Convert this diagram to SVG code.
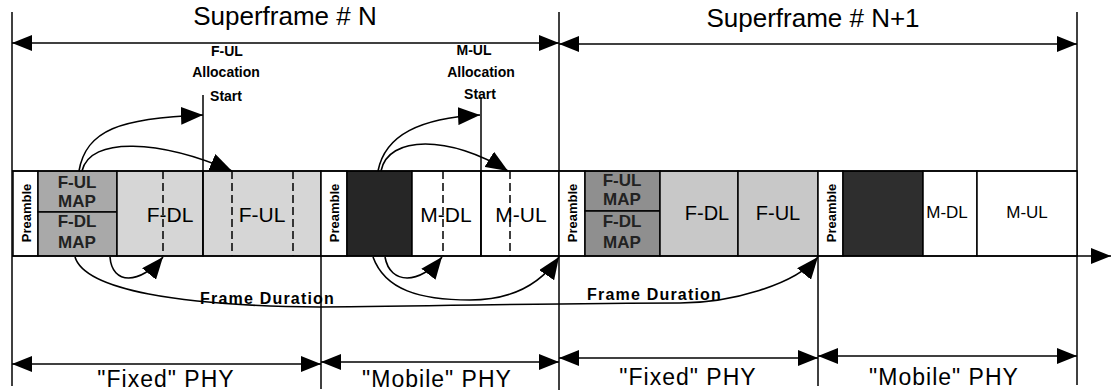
<svg xmlns="http://www.w3.org/2000/svg" width="1113" height="391" viewBox="0 0 1113 391">
<style>
text{font-family:"Liberation Sans",Arial,sans-serif;fill:#000}
.big{font-size:26px}
.phy{font-size:23px;letter-spacing:1px}
.lbl{font-size:14px;font-weight:bold}
.fd{font-size:16px;font-weight:bold;letter-spacing:1.2px}
.pre{font-size:13px;font-weight:bold}
.map{font-size:17px;font-weight:bold;fill:#222}
.box{stroke:#000;stroke-width:1.5}
.ln{stroke:#000;stroke-width:1.5;fill:none}
.dash{stroke:#000;stroke-width:1.5;stroke-dasharray:8 4;fill:none}
.cv{stroke:#000;stroke-width:1.6;fill:none}
</style>
<defs>
<marker id="ah" viewBox="0 0 20 16" refX="20" refY="8" markerWidth="20" markerHeight="16" markerUnits="userSpaceOnUse" orient="auto-start-reverse"><path d="M0,0 L20,8 L0,16 z" fill="#000"/></marker>
<marker id="ahs" viewBox="0 0 22 18" refX="22" refY="9" markerWidth="22" markerHeight="18" markerUnits="userSpaceOnUse" orient="auto"><path d="M0,0 L22,9 L0,18 z" fill="#000"/></marker>
</defs>

<g id="guides">
<line class="ln" x1="12" y1="12" x2="12" y2="386"/>
<line class="ln" x1="559" y1="12" x2="559" y2="390"/>
<line class="ln" x1="1077" y1="12" x2="1077" y2="385"/>
<line class="ln" x1="321" y1="256" x2="321" y2="389"/>
<line class="ln" x1="818" y1="256" x2="818" y2="386"/>
</g>

<g id="fixed-n">
<rect class="box" x="13" y="171" width="25" height="85" fill="#fff"/>
<text class="pre" transform="translate(26,213) rotate(-90)" text-anchor="middle" dominant-baseline="central">Preamble</text>
<rect class="box" x="38" y="171" width="79" height="41" fill="#a9a9a9"/>
<rect class="box" x="38" y="212" width="79" height="44" fill="#a9a9a9"/>
<text class="map" x="77" y="188" text-anchor="middle">F-UL</text>
<text class="map" x="77" y="207" text-anchor="middle">MAP</text>
<text class="map" x="77" y="227" text-anchor="middle">F-DL</text>
<text class="map" x="77" y="248" text-anchor="middle">MAP</text>
<rect class="box" x="117" y="171" width="86" height="85" fill="#d6d6d6"/>
<rect class="box" x="203" y="171" width="118" height="85" fill="#d6d6d6"/>
<line class="dash" x1="163" y1="171" x2="163" y2="256"/>
<line class="dash" x1="232" y1="171" x2="232" y2="256"/>
<line class="dash" x1="293" y1="171" x2="293" y2="256"/>
<text x="170" y="222" font-size="21" text-anchor="middle">F-DL</text>
<text x="262" y="222" font-size="21" text-anchor="middle">F-UL</text>
</g>

<g id="mobile-n">
<rect class="box" x="321" y="171" width="26" height="85" fill="#fff"/>
<text class="pre" transform="translate(334,213) rotate(-90)" text-anchor="middle" dominant-baseline="central">Preamble</text>
<rect class="box" x="347" y="171" width="65" height="85" fill="#262626"/>
<rect class="box" x="412" y="171" width="69" height="85" fill="#fff"/>
<rect class="box" x="481" y="171" width="78" height="85" fill="#fff"/>
<line class="dash" x1="443" y1="171" x2="443" y2="256"/>
<line class="dash" x1="510" y1="171" x2="510" y2="256"/>
<text x="446" y="222" font-size="21" text-anchor="middle">M-DL</text>
<text x="521" y="222" font-size="21" text-anchor="middle">M-UL</text>
</g>

<g id="fixed-n1">
<rect class="box" x="559" y="171" width="26" height="85" fill="#fff"/>
<text class="pre" transform="translate(572,213) rotate(-90)" text-anchor="middle" dominant-baseline="central">Preamble</text>
<rect class="box" x="585" y="171" width="75" height="40" fill="#8f8f8f"/>
<rect class="box" x="585" y="211" width="75" height="45" fill="#8f8f8f"/>
<text class="map" x="622" y="186" text-anchor="middle">F-UL</text>
<text class="map" x="622" y="205" text-anchor="middle">MAP</text>
<text class="map" x="622" y="227" text-anchor="middle">F-DL</text>
<text class="map" x="622" y="248" text-anchor="middle">MAP</text>
<rect class="box" x="660" y="171" width="78" height="85" fill="#c8c8c8"/>
<rect class="box" x="738" y="171" width="80" height="85" fill="#c8c8c8"/>
<text x="707" y="220" font-size="20" text-anchor="middle">F-DL</text>
<text x="778" y="220" font-size="20" text-anchor="middle">F-UL</text>
</g>

<g id="mobile-n1">
<rect class="box" x="818" y="171" width="25" height="85" fill="#fff"/>
<text class="pre" transform="translate(831,213) rotate(-90)" text-anchor="middle" dominant-baseline="central">Preamble</text>
<rect class="box" x="843" y="171" width="80" height="85" fill="#2e2e2e"/>
<rect class="box" x="923" y="171" width="54" height="85" fill="#fff"/>
<rect class="box" x="977" y="171" width="100" height="85" fill="#fff"/>
<text x="947" y="218" font-size="17" text-anchor="middle">M-DL</text>
<text x="1027" y="218" font-size="17" text-anchor="middle">M-UL</text>
</g>

<g id="labels">
<text class="big" x="285" y="25" text-anchor="middle">Superframe # N</text>
<text class="big" x="813" y="27" text-anchor="middle">Superframe # N+1</text>
<text class="lbl" x="227" y="56" text-anchor="middle">F-UL</text>
<text class="lbl" x="226" y="77" text-anchor="middle">Allocation</text>
<text class="lbl" x="226" y="101" text-anchor="middle">Start</text>
<text class="lbl" x="474" y="55" text-anchor="middle">M-UL</text>
<text class="lbl" x="481" y="77" text-anchor="middle">Allocation</text>
<text class="lbl" x="480" y="99" text-anchor="middle">Start</text>
<text class="fd" x="200" y="304">Frame Duration</text>
<text class="fd" x="587" y="300">Frame Duration</text>
<text class="phy" x="166" y="387" text-anchor="middle">"Fixed" PHY</text>
<text class="phy" x="437" y="387" text-anchor="middle">"Mobile" PHY</text>
<text class="phy" x="688" y="385" text-anchor="middle">"Fixed" PHY</text>
<text class="phy" x="944" y="385" text-anchor="middle">"Mobile" PHY</text>
</g>

<g id="connectors">
<line class="ln" x1="12" y1="43" x2="559" y2="43" marker-start="url(#ah)" marker-end="url(#ah)"/>
<line class="ln" x1="559" y1="44" x2="1077" y2="44" marker-start="url(#ah)" marker-end="url(#ah)"/>
<line class="ln" x1="12" y1="364" x2="321" y2="364" marker-start="url(#ah)" marker-end="url(#ah)"/>
<line class="ln" x1="321" y1="362" x2="559" y2="362" marker-start="url(#ah)" marker-end="url(#ah)"/>
<line class="ln" x1="559" y1="358" x2="818" y2="358" marker-start="url(#ah)" marker-end="url(#ah)"/>
<line class="ln" x1="818" y1="356" x2="1077" y2="356" marker-start="url(#ah)" marker-end="url(#ah)"/>
<line class="ln" x1="12" y1="171" x2="1077" y2="171"/>
<line class="ln" x1="12" y1="256" x2="1111" y2="256" marker-end="url(#ah)"/>
<line class="ln" x1="203" y1="95" x2="203" y2="256"/>
<line class="ln" x1="481" y1="97" x2="481" y2="256"/>
<path class="cv" d="M79 171 C86 130 120 118 203 115" marker-end="url(#ahs)"/>
<path class="cv" d="M82 171 C90 136 160 140 232 171" marker-end="url(#ahs)"/>
<path class="cv" d="M378 171 C385 135 420 118 480 115" marker-end="url(#ahs)"/>
<path class="cv" d="M381 171 C388 135 450 135 508 171" marker-end="url(#ahs)"/>
<path class="cv" d="M110 257 C112 285 140 285 163 257" marker-end="url(#ahs)"/>
<path class="cv" d="M385 257 C390 285 420 285 442 257" marker-end="url(#ahs)"/>
<path class="cv" d="M75 257 C85 290 180 306 320 307 C450 306 560 303 680 303 C730 303 795 285 818 257" marker-end="url(#ahs)"/>
<path class="cv" d="M373 257 C385 290 420 300 470 300 C510 300 540 285 559 257" marker-end="url(#ahs)"/>
</g>
</svg>
